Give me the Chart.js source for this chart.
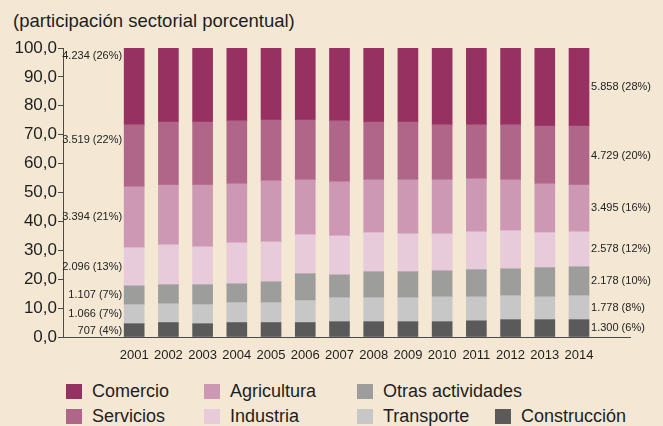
<!DOCTYPE html>
<html>
<head>
<meta charset="utf-8">
<script src="https://cdn.jsdelivr.net/npm/chart.js@4.4.1/dist/chart.umd.min.js"></script>
<style>
  html, body { margin: 0; padding: 0; background: #f4e7d4; }
  #wrap { position: relative; width: 663px; height: 426px; overflow: hidden; font-family: "Liberation Sans", Arial, sans-serif; color: #1e1e1e; }
  #title { position: absolute; left: 13px; top: 10px; font-size: 18.5px; line-height: 22px; }
  #chart { position: absolute; left: 0; top: 0; }
  #legend { position: absolute; left: 66px; top: 379px; display: grid; grid-template-columns: 138px 153px 138px auto; grid-template-rows: 25px 25px; grid-auto-flow: column; font-size: 18px; }
  .item { display: flex; align-items: center; white-space: nowrap; }
  .sw { width: 16px; height: 15px; margin-right: 10px; flex-shrink: 0; }
</style>
</head>
<body>
<div id="wrap">
  <div id="title">(participación sectorial porcentual)</div>
  <canvas id="chart" width="663" height="370"></canvas>
  <div id="legend"></div>
</div>
<script>
// years on the x axis
const years = [2001, 2002, 2003, 2004, 2005, 2006, 2007, 2008, 2009, 2010, 2011, 2012, 2013, 2014]

// sector shares (%)
const construccion = [4.6, 5.0, 4.6, 5.0, 5.0, 5.0, 5.3, 5.3, 5.3, 5.3, 5.6, 6.0, 6.0, 6.0]
const transporte   = [6.6, 6.5, 6.6, 6.9, 6.9, 7.6, 8.3, 8.3, 8.3, 8.6, 8.3, 8.3, 7.9, 8.3]
const otras        = [6.5, 6.6, 6.9, 6.5, 7.2, 9.3, 7.9, 9.0, 9.0, 9.0, 9.4, 9.3, 10.1, 10.0]
const industria    = [13.2, 13.8, 13.1, 14.2, 13.8, 13.5, 13.5, 13.5, 13.1, 12.8, 13.1, 13.2, 12.1, 12.1]
const agricultura  = [21.1, 20.7, 21.4, 20.4, 21.1, 19.0, 18.7, 18.3, 18.7, 18.7, 18.3, 17.6, 16.9, 16.2]
const servicios    = [21.4, 21.8, 21.8, 21.8, 21.1, 20.7, 21.1, 20.0, 20.0, 19.0, 18.7, 19.0, 20.0, 20.4]
const comercio     = [26.6, 25.6, 25.6, 25.2, 24.9, 24.9, 25.2, 25.6, 25.6, 26.6, 26.6, 26.6, 27.0, 27.0]

// value labels beside the first and last bar (Comercio first, Construccion last)
const labels2001 = ["4.234 (26%)", "3.519 (22%)", "3.394 (21%)", "2.096 (13%)", "1.107 (7%)", "1.066 (7%)", "707 (4%)"]
const labels2014 = ["5.858 (28%)", "4.729 (20%)", "3.495 (16%)", "2.578 (12%)", "2.178 (10%)", "1.778 (8%)", "1.300 (6%)"]
// where the 2001 labels sit on the y scale
const labels2001At = [97.2, 68.2, 41.5, 24.2, 14.5, 8.0, 2.1]

const yTicks = [0, 10, 20, 30, 40, 50, 60, 70, 80, 90, 100]

// stacking order: bottom first
const series = [
  { name: "Construcción", data: construccion, color: "#5a5a5a" },
  { name: "Transporte", data: transporte, color: "#c7c7c7" },
  { name: "Otras actividades", data: otras, color: "#9d9d9c" },
  { name: "Industria", data: industria, color: "#e7cbda" },
  { name: "Agricultura", data: agricultura, color: "#cc98b4" },
  { name: "Servicios", data: servicios, color: "#b06689" },
  { name: "Comercio", data: comercio, color: "#963161" },
]

const sideLabels = {
  id: "sideLabels",
  afterDatasetsDraw(chart) {
    const { ctx } = chart
    const x = chart.scales.x
    const y = chart.scales.y
    ctx.save()
    ctx.font = "11px 'Liberation Sans', Arial, sans-serif"
    ctx.fillStyle = "#222"
    ctx.textBaseline = "middle"

    // left of 2001
    ctx.textAlign = "right"
    const lx = x.getPixelForValue(years[0]) - 12
    labels2001.forEach((t, i) => {
      ctx.fillText(t, lx, y.getPixelForValue(labels2001At[i]))
    })

    // right of 2014, centred on each segment
    ctx.textAlign = "left"
    const rx = x.getPixelForValue(years[years.length - 1]) + 12
    const last = years.length - 1
    let base = 0
    const centres = []
    series.forEach((s) => {
      centres.push(base + s.data[last] / 2)
      base += s.data[last]
    })
    centres.reverse().forEach((c, i) => {
      ctx.fillText(labels2014[i], rx, y.getPixelForValue(c))
    })
    ctx.restore()
  },
}

new Chart(document.getElementById("chart"), {
  type: "bar",
  data: {
    datasets: series.map((s) => ({
      label: s.name,
      data: s.data.map((v, i) => ({ x: years[i], y: v })),
      backgroundColor: s.color,
      borderWidth: 0,
      barThickness: 20,
    })),
  },
  options: {
    responsive: false,
    animation: false,
    devicePixelRatio: 1,
    layout: { padding: { top: 48, right: 33, left: 0, bottom: 0 } },
    plugins: { legend: { display: false }, tooltip: { enabled: false } },
    scales: {
      x: {
        type: "linear",
        stacked: true,
        min: 1998.92,
        max: 2015.49,
        offset: false,
        afterFit: (s) => { s.height = 33 },
        afterBuildTicks: (s) => { s.ticks = years.map((v) => ({ value: v })) },
        grid: { display: false },
        border: { display: true, color: "#4a4a4a", width: 1 },
        ticks: {
          autoSkip: false,
          maxRotation: 0,
          padding: 3,
          color: "#1e1e1e",
          font: { family: "'Liberation Sans', Arial, sans-serif", size: 13 },
          callback: (v) => String(v),
        },
      },
      y: {
        stacked: true,
        min: 0,
        max: 100,
        afterFit: (s) => { s.width = 63 },
        afterBuildTicks: (s) => { s.ticks = yTicks.map((v) => ({ value: v })) },
        grid: { drawOnChartArea: false, drawTicks: true, tickLength: 5, color: "#4a4a4a" },
        border: { display: true, color: "#4a4a4a", width: 1 },
        ticks: {
          padding: 1,
          color: "#1e1e1e",
          font: { family: "'Liberation Sans', Arial, sans-serif", size: 17 },
          callback: (v) => v.toFixed(1).replace(".", ","),
        },
      },
    },
  },
  plugins: [sideLabels],
})

// legend in three columns of two, plus Construccion at the end of row two
const legendEl = document.getElementById("legend")
series.slice().reverse().forEach((s, i) => {
  const item = document.createElement("div")
  item.className = "item"
  item.innerHTML = `<span class="sw" style="background:${s.color}"></span>${s.name}`
  if (i === 6) {
    item.style.gridRow = "2"
    item.style.gridColumn = "4"
  }
  legendEl.appendChild(item)
})
</script>
</body>
</html>
